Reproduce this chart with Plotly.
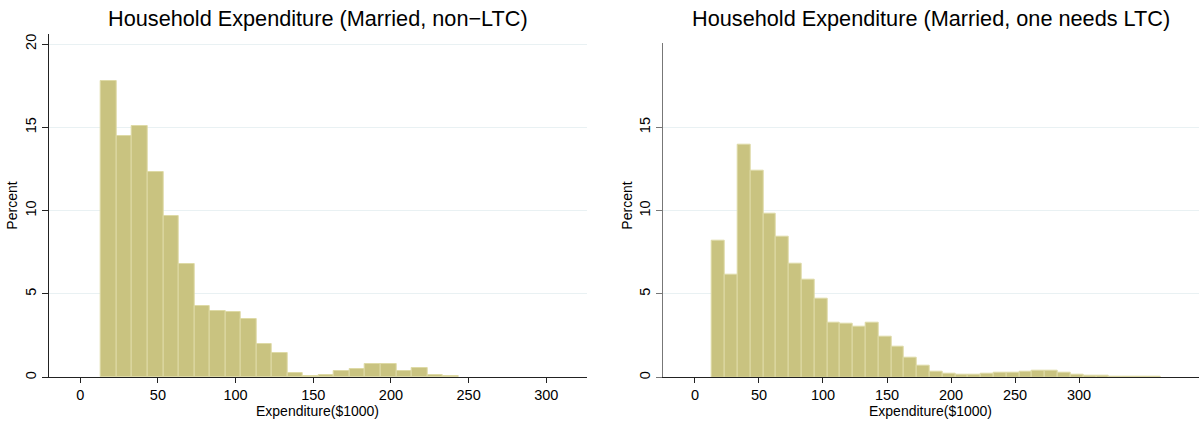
import plotly.graph_objects as go

# Histogram bins: $1000 units, width 10, first bin starting at ~13.4
bin_start = 13.4
bin_width = 10

# Percent of households per bin
pct_non_ltc = [17.8, 14.5, 15.1, 12.3, 9.65, 6.8, 4.25, 3.95, 3.9, 3.5,
               2.0, 1.47, 0.24, 0.1, 0.13, 0.35, 0.48, 0.77, 0.77, 0.38,
               0.53, 0.12, 0.05]
pct_one_ltc = [8.22, 6.18, 13.94, 12.42, 9.84, 8.46, 6.84, 5.88, 4.74, 3.3,
               3.2, 3.06, 3.3, 2.46, 1.84, 1.15, 0.71, 0.36, 0.24, 0.17,
               0.16, 0.24, 0.3, 0.3, 0.36, 0.42, 0.4, 0.3, 0.18, 0.12,
               0.08, 0.06, 0.06, 0.05, 0.05]

x_ticks = [0, 50, 100, 150, 200, 250, 300]
y_ticks_left = [0, 5, 10, 15, 20]
y_ticks_right = [0, 5, 10, 15]

titles = ["Household Expenditure (Married, non\u2212LTC)",
          "Household Expenditure (Married, one needs LTC)"]
x_title = "Expenditure($1000)"
y_title = "Percent"

W, H = 1199, 421
BAR_FILL = "#c9c380"
BAR_LINE = "#dedaa6"
GRID = "#e9f1f3"
FONT = "Liberation Sans, Arial, Helvetica, sans-serif"


def edges(n):
    return [bin_start + i * bin_width for i in range(n)]


fig = go.Figure()
fig.add_trace(go.Bar(x=edges(len(pct_non_ltc)), y=pct_non_ltc, width=bin_width,
                     offset=0, marker=dict(color=BAR_FILL,
                                           line=dict(color=BAR_LINE, width=1)),
                     xaxis="x", yaxis="y", showlegend=False))
fig.add_trace(go.Bar(x=edges(len(pct_one_ltc)), y=pct_one_ltc, width=bin_width,
                     offset=0, marker=dict(color=BAR_FILL,
                                           line=dict(color=BAR_LINE, width=1)),
                     xaxis="x2", yaxis="y2", showlegend=False))

# panel geometry in pixels
left_px = (48.7, 586.7)
right_px = (662.7, 1199)
base_px = 377.3
top_left_px = 34
top_right_px = 42.7

dom_x1 = [left_px[0] / W, left_px[1] / W]
dom_x2 = [right_px[0] / W, 1.0]
dom_y1 = [(H - base_px) / H, (H - top_left_px) / H]
dom_y2 = [(H - base_px) / H, (H - top_right_px) / H]

tickfont = dict(family=FONT, size=14.5, color="#000")

common_x = dict(showgrid=False, zeroline=False, showline=True, linecolor="#222",
                linewidth=1.2, ticks="outside", ticklen=5, tickcolor="#222",
                tickwidth=1, tickfont=tickfont, tickvals=x_ticks,
                ticklabelstandoff=-1)
common_y = dict(showgrid=True, gridcolor=GRID, gridwidth=1, zeroline=False,
                showline=True, linewidth=1.2, ticks="outside", ticklen=6,
                tickwidth=1, tickfont=tickfont, tickangle=-90)

fig.update_layout(
    width=W, height=H,
    margin=dict(l=0, r=0, t=0, b=0, autoexpand=False),
    paper_bgcolor="white", plot_bgcolor="white",
    bargap=0,
    font=dict(family=FONT, color="#000"),
    xaxis=dict(domain=dom_x1, range=[-20.3, 326], anchor="y", **common_x),
    yaxis=dict(domain=dom_y1, range=[0, 20.6], anchor="x", tickvals=y_ticks_left,
               linecolor="#222", tickcolor="#222", **common_y),
    xaxis2=dict(domain=dom_x2, range=[-25.2, 393.7], anchor="y2", **common_x),
    yaxis2=dict(domain=dom_y2, range=[0, 20.07], anchor="x2", tickvals=y_ticks_right,
                linecolor="#777", tickcolor="#777", **common_y),
)

annotations = []
for dx, dy, ttl in [(dom_x1, dom_y1, titles[0]), (dom_x2, dom_y2, titles[1])]:
    cx = (dx[0] + dx[1]) / 2
    annotations.append(dict(text=ttl, x=cx, y=(H - 18) / H, xref="paper", yref="paper",
                            xanchor="center", yanchor="middle", showarrow=False,
                            font=dict(family=FONT, size=21.7, color="#000")))
    annotations.append(dict(text=x_title, x=cx, y=(H - 411) / H, xref="paper",
                            yref="paper", xanchor="center", yanchor="middle",
                            showarrow=False, font=dict(family=FONT, size=14, color="#000")))

annotations.append(dict(text=y_title, x=12 / W, y=(dom_y1[0] + dom_y1[1]) / 2,
                        xref="paper", yref="paper", xanchor="center", yanchor="middle",
                        textangle=-90, showarrow=False,
                        font=dict(family=FONT, size=14, color="#000")))
annotations.append(dict(text=y_title, x=627 / W, y=(dom_y1[0] + dom_y1[1]) / 2,
                        xref="paper", yref="paper", xanchor="center", yanchor="middle",
                        textangle=-90, showarrow=False,
                        font=dict(family=FONT, size=14, color="#000")))
fig.update_layout(annotations=annotations)

fig.write_html("out.html")
